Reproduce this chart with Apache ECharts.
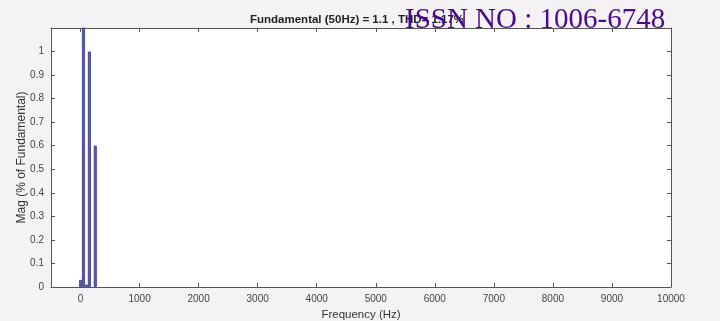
<!DOCTYPE html>
<html><head><meta charset="utf-8">
<script src="https://cdn.jsdelivr.net/npm/echarts@6/dist/echarts.min.js"></script>
<style>html,body{margin:0;padding:0;background:#f4f2f5;}#c{width:720px;height:321px;}</style>
</head><body><div id="c"></div>
<script>
const freqs = [0, 50, 100, 150, 250];
const mags = [0.03, 1.15, 0.01, 1.0, 0.6];
const xTicks = [0, 1000, 2000, 3000, 4000, 5000, 6000, 7000, 8000, 9000, 10000];
const yTicks = [0, 0.1, 0.2, 0.3, 0.4, 0.5, 0.6, 0.7, 0.8, 0.9, 1];
const titleText = 'Fundamental (50Hz) = 1.1 , THD= 1.17%';
const watermark = 'ISSN NO : 1006-6748';
const xName = 'Frequency (Hz)';
const yName = 'Mag (% of Fundamental)';

const chart = echarts.init(document.getElementById('c'));
const axisLine = {show: true, onZero: false, lineStyle: {color: '#555', width: 1}};
const tick = {show: true, inside: true, length: 4, lineStyle: {color: '#555'}};
chart.setOption({
  backgroundColor: '#f4f2f5',
  animation: false,
  title: [
    {text: titleText, left: 245, top: 9, textStyle: {fontFamily: 'Liberation Sans', fontSize: 11.5, fontWeight: 'bold', color: '#222'}},
    {text: watermark, left: 400, top: 1, textStyle: {fontFamily: 'Liberation Serif', fontSize: 29, fontWeight: 'normal', color: '#4b0a8a'}}
  ],
  grid: {left: 51, right: 49, top: 28, bottom: 34, backgroundColor: '#fff', show: true, borderWidth: 0, containLabel: false, outerBoundsMode: 'none'},
  xAxis: [{
    type: 'value', min: -500, max: 10000, position: 'bottom',
    name: xName, nameLocation: 'middle', nameGap: 22,
    nameTextStyle: {fontFamily: 'Liberation Sans', fontSize: 11.5, color: '#333'},
    axisLine: axisLine, splitLine: {show: false},
    axisTick: Object.assign({customValues: xTicks}, tick),
    axisLabel: {customValues: xTicks, formatter: v => String(v), fontFamily: 'Liberation Sans', fontSize: 10, color: '#444', margin: 7}
  }, {
    type: 'value', min: -500, max: 10000, position: 'top',
    axisLine: axisLine, splitLine: {show: false},
    axisTick: Object.assign({customValues: xTicks}, tick),
    axisLabel: {show: false}
  }],
  yAxis: [{
    type: 'value', min: 0, max: 1.1, position: 'left',
    name: yName, nameLocation: 'middle', nameGap: 23, nameRotate: 90, nameMoveOverlap: false,
    nameTextStyle: {fontFamily: 'Liberation Sans', fontSize: 12, color: '#333'},
    axisLine: axisLine, splitLine: {show: false},
    axisTick: Object.assign({customValues: yTicks}, tick),
    axisLabel: {customValues: yTicks, formatter: v => String(v), fontFamily: 'Liberation Sans', fontSize: 10, color: '#444', margin: 7}
  }, {
    type: 'value', min: 0, max: 1.1, position: 'right',
    axisLine: axisLine, splitLine: {show: false},
    axisTick: Object.assign({customValues: yTicks}, tick),
    axisLabel: {show: false}
  }],
  series: [{
    type: 'bar', xAxisIndex: 0, yAxisIndex: 0,
    data: freqs.map((f, i) => [f, mags[i]]),
    barWidth: 3,
    itemStyle: {color: '#5a5ea8', borderColor: '#363a85', borderWidth: 0.8},
    clip: true
  }]
});
</script></body></html>
